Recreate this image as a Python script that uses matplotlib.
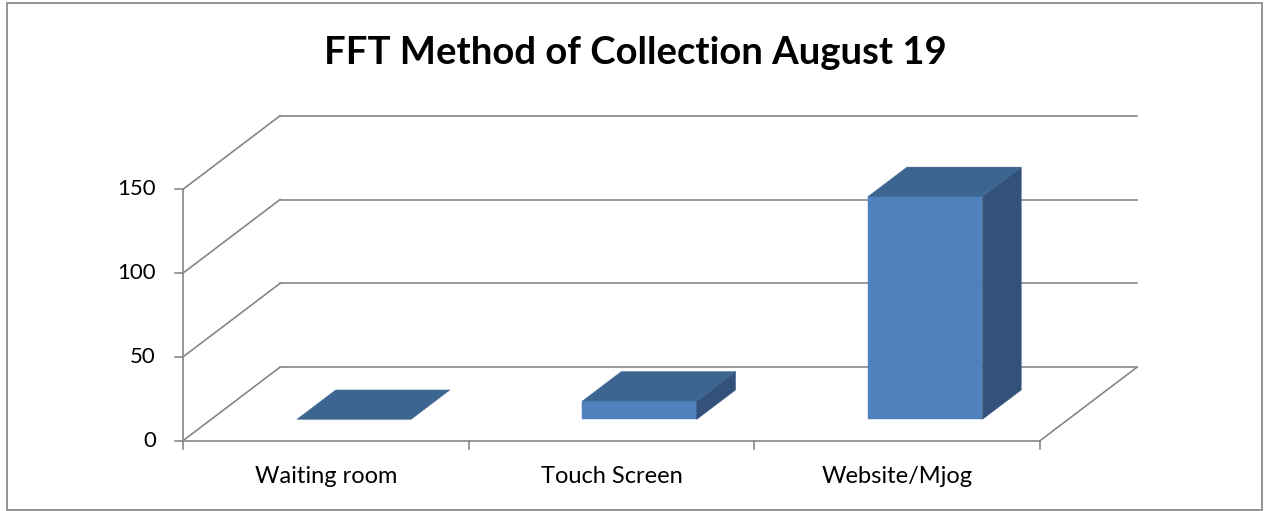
import matplotlib
matplotlib.use("Agg")
import matplotlib.pyplot as plt
from matplotlib.patches import Polygon, Rectangle

# ---- data ----
categories = ["Waiting room", "Touch Screen", "Website/Mjog"]
values = [0, 11, 133]
y_ticks = [0, 50, 100, 150]
title = "FFT Method of Collection August 19"

# ---- layout constants (pixels) ----
W, H = 1265, 511
X0PX, X3PX = 183.0, 1040.0          # front axis extent
Y0PX = 440.7                         # value 0 (from top)
PX_PER_50 = 83.8
UX = (X3PX - X0PX) / len(categories)  # px per category unit
UY = PX_PER_50 / 50.0                 # px per value unit
DX = 97.0 / UX                        # depth offset (data units)
DY = 73.5 / UY
BAR_W = 0.40
D0, BD = 0.29, 0.40                   # bar depth start, bar depth size

FRONT = "#4F81BD"
TOP = "#3D6591"
SIDE = "#32527B"
GRID = "#868686"

FONT = "Lato"
plt.rcParams["font.family"] = [FONT, "DejaVu Sans"]

fig = plt.figure(figsize=(W / 100, H / 100), dpi=100)
ax = fig.add_axes([0, 0, 1, 1])
ybot = H - Y0PX
ax.set_xlim(-X0PX / UX, (W - X0PX) / UX)
ax.set_ylim(-ybot / UY, (H - ybot) / UY)
ax.axis("off")

def px2x(p):
    return (p - X0PX) / UX

def px2y(p):
    return (Y0PX - p) / UY

n = len(categories)
lw = 1.2
# back wall gridlines and left wall diagonals
for v in y_ticks:
    ax.plot([DX, n + DX], [v + DY, v + DY], color=GRID, lw=lw, zorder=1)
    ax.plot([0, DX], [v, v + DY], color=GRID, lw=lw, zorder=1)
    ax.plot([-8 / UX, 0], [v, v], color=GRID, lw=lw, zorder=1)
    ax.text(px2x(156), v, str(v), ha="right", va="center", fontsize=16,
            color="black")
# y axis
ax.plot([0, 0], [0, y_ticks[-1]], color=GRID, lw=lw, zorder=1)
# floor
ax.plot([0, n], [0, 0], color=GRID, lw=lw, zorder=1)
ax.plot([n, n + DX], [0, DY], color=GRID, lw=lw, zorder=1)
for i in range(n + 1):
    ax.plot([i, i], [0, -8 / UY], color=GRID, lw=lw, zorder=1)

# bars
for i, (c, v) in enumerate(zip(categories, values)):
    xl = i + 0.5 - BAR_W / 2 + D0 * DX
    by = D0 * DY
    ddx, ddy = BD * DX, BD * DY
    if v > 0:
        ax.add_patch(Rectangle((xl, by), BAR_W, v, facecolor=FRONT,
                               edgecolor=FRONT, lw=0.3, zorder=3))
        ax.add_patch(Polygon([(xl + BAR_W, by), (xl + BAR_W, by + v),
                              (xl + BAR_W + ddx, by + v + ddy),
                              (xl + BAR_W + ddx, by + ddy)],
                             closed=True, facecolor=SIDE, edgecolor=SIDE,
                             lw=0.3, zorder=3))
    ax.add_patch(Polygon([(xl, by + v), (xl + BAR_W, by + v),
                          (xl + BAR_W + ddx, by + v + ddy),
                          (xl + ddx, by + v + ddy)],
                         closed=True, facecolor=TOP, edgecolor=TOP,
                         lw=0.3, zorder=3))
    ax.text(i + 0.5, px2y(476), c, ha="center", va="center", fontsize=17,
            color="black")

# title
ax.text(px2x(635), px2y(53), title, ha="center", va="center",
        fontsize=27.5, fontweight="bold", color="black")

# outer border
ax.add_patch(Rectangle((px2x(6.5), px2y(510)), (1262 - 6.5) / UX,
                       (510 - 3.5) / UY, fill=False, edgecolor="#8C8C8C",
                       lw=1.3, zorder=5))

fig.savefig("out.png", dpi=100)
